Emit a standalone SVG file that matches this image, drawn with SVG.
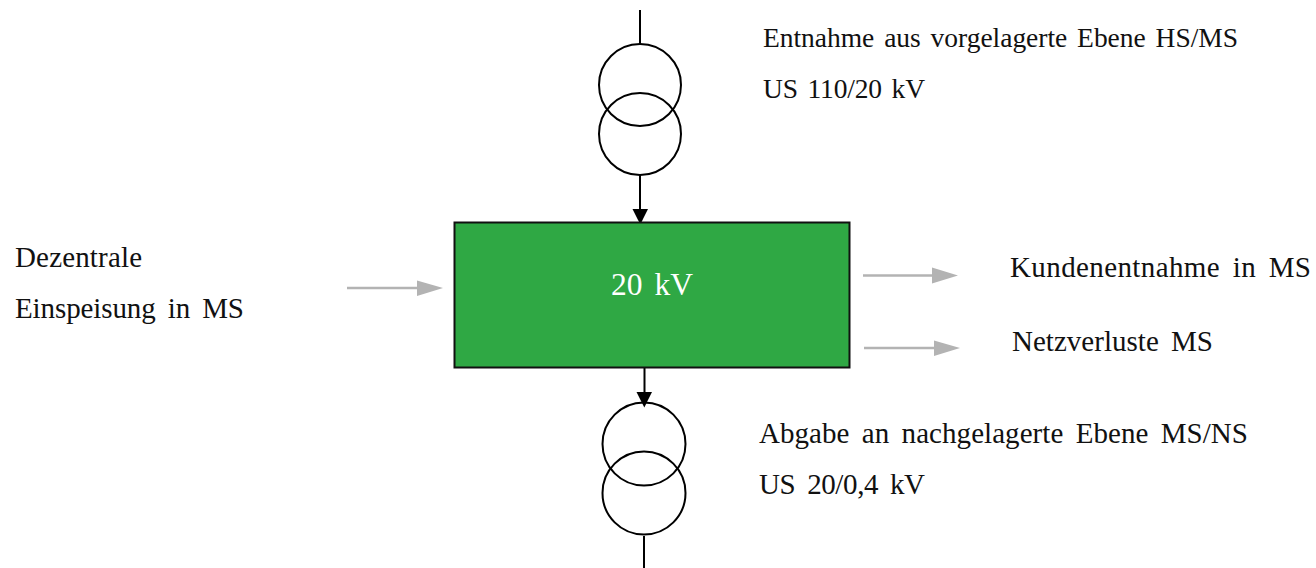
<svg xmlns="http://www.w3.org/2000/svg" width="1316" height="568" viewBox="0 0 1316 568">
<style>
text{font-family:"Liberation Serif","Times New Roman",serif;font-size:29px;fill:#111;word-spacing:5px}
.n{font-size:27.500px;word-spacing:3px}
.k{stroke:#000;stroke-width:2;fill:none}
.t{stroke:#000;stroke-width:2;fill:none}
.g{stroke:#b3b3b3;stroke-width:2.400;fill:none}
.kh{fill:#000}
.gh{fill:#b3b3b3}
</style>
<rect width="1316" height="568" fill="#fff"/>
<g id="connectors">
<path class="k" d="M640 10V44"/>
<path class="k" d="M640 175V210"/><path class="kh" d="M632.500 209H648L640.300 224.500Z"/>
<path class="k" d="M644.500 368V393"/><path class="kh" d="M636.500 392H652L644.300 407.500Z"/>
<path class="k" d="M644 536V568"/>
<path class="g" d="M347 288H428"/><path class="gh" d="M417 280.500L443 288L417 296Z"/>
<path class="g" d="M863 275.500H935"/><path class="gh" d="M932 267.500L958 275.500L932 283.500Z"/>
<path class="g" d="M864 348H937"/><path class="gh" d="M934 340.500L960 348L934 356Z"/>
</g>
<g id="node-top-transformer"><circle class="t" cx="640" cy="85" r="41"/><circle class="t" cx="640" cy="134" r="41"/></g>
<g id="node-bottom-transformer"><circle class="t" cx="644" cy="444" r="41.500"/><circle class="t" cx="644" cy="493" r="41.500"/></g>
<g id="node-20kv"><rect x="454.500" y="222.500" width="395" height="145" fill="#2fa844" stroke="#111" stroke-width="2"/><text x="611" y="295" textLength="82" style="fill:#fff;font-size:31.500px;word-spacing:4px">20 kV</text></g>
<g id="label-entnahme"><text class="n" x="763" y="47" textLength="475">Entnahme aus vorgelagerte Ebene HS/MS</text><text class="n" x="763" y="98" textLength="162">US 110/20 kV</text></g>
<g id="label-dezentrale"><text x="15" y="267" textLength="127">Dezentrale</text><text x="15" y="318" textLength="229">Einspeisung in MS</text></g>
<g id="label-kunden"><text x="1010" y="277" textLength="301">Kundenentnahme in MS</text></g>
<g id="label-netz"><text x="1012" y="351" textLength="201">Netzverluste MS</text></g>
<g id="label-abgabe"><text x="759" y="443" textLength="489">Abgabe an nachgelagerte Ebene MS/NS</text><text x="759" y="494" textLength="166">US 20/0,4 kV</text></g>
</svg>
